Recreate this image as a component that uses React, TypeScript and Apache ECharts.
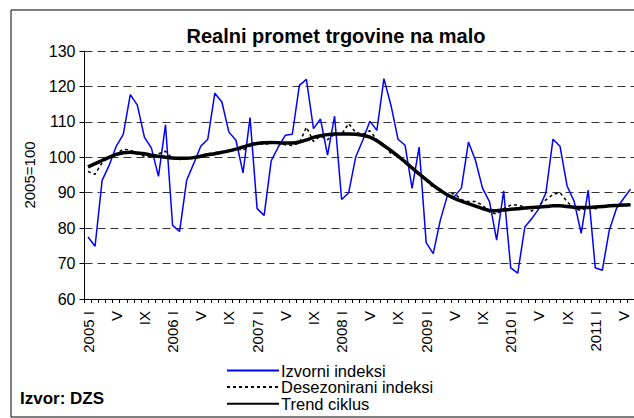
import React, { useEffect, useRef } from "react";
import * as echarts from "echarts";

const romans = ["I", "II", "III", "IV", "V", "VI", "VII", "VIII", "IX", "X", "XI", "XII"];
const years = [2005, 2006, 2007, 2008, 2009, 2010, 2011];
const monthsCount = 78;
const categories: string[] = [];
for (let i = 0; i < monthsCount; i++) {
  const y = years[Math.floor(i / 12)];
  const m = i % 12;
  categories.push(m === 0 ? `${y} ${romans[m]}` : romans[m]);
}

const izvorni = [
  77.5, 74.9, 93.5, 97.7, 103.1, 106.5, 117.7, 114.7, 105.7, 102.6, 94.6, 109.2,
  80.8, 79.1, 93.5, 98.2, 103.1, 105.1, 118.1, 115.6, 107.1, 104.8, 95.6, 111.2,
  85.5, 83.6, 99.0, 102.9, 106.2, 106.5, 120.3, 122.0, 108.1, 110.8, 100.6, 111.6,
  88.1, 90.0, 100.1, 104.8, 110.2, 107.6, 122.2, 114.7, 105.1, 103.4, 91.2, 102.9,
  75.9, 72.8, 82.2, 89.1, 88.9, 91.3, 104.3, 99.1, 91.3, 87.4, 76.6, 90.5,
  68.8, 67.3, 80.3, 82.7, 85.5, 90.0, 105.1, 103.1, 91.9, 87.6, 78.5, 90.7,
  68.8, 68.1, 79.5, 85.5, 88.3, 91.0,
];

const desezonirani = [
  96.0, 95.2, 98.5, 100.0, 101.0, 102.3, 102.0, 101.0, 100.3, 100.0, 101.0, 101.7,
  99.6, 99.4, 99.5, 99.8, 100.5, 101.0, 101.3, 101.6, 102.0, 102.4, 102.0, 103.2,
  104.0, 103.6, 104.0, 104.2, 103.5, 103.3, 104.0, 108.5, 104.5, 106.0, 105.0, 106.5,
  106.5, 109.5, 107.0, 106.5, 107.5, 105.0, 103.5, 101.0, 100.5, 99.0, 97.0, 95.5,
  93.5, 91.5, 90.8, 89.5, 89.8, 88.0, 87.5, 87.5, 86.5, 84.5, 84.0, 85.5,
  86.5, 86.5, 86.0, 84.8, 86.5, 88.0, 89.5, 90.0, 87.5, 85.5, 85.0, 86.0,
  85.5, 86.0, 86.5, 86.0, 86.5, 86.5,
];

const trend = [
  97.3, 98.2, 99.1, 100.0, 100.8, 101.3, 101.4, 101.2, 101.0, 100.6, 100.3, 100.0,
  99.8, 99.7, 99.7, 99.9, 100.3, 100.7, 101.0, 101.4, 101.8, 102.3, 102.9, 103.5,
  103.9, 104.1, 104.2, 104.1, 104.0, 104.0, 104.3, 104.9, 105.6, 106.1, 106.4, 106.6,
  106.6, 106.6, 106.5, 106.2, 105.7, 104.7, 103.3, 101.9, 100.3, 98.7, 97.0, 95.3,
  93.7, 92.1, 90.7, 89.4, 88.4, 87.6, 86.9, 86.2, 85.5, 85.0, 84.9, 85.1,
  85.3, 85.5, 85.7, 85.8, 86.0, 86.1, 86.3, 86.3, 86.1, 85.9, 85.8, 85.8,
  86.0, 86.1, 86.3, 86.4, 86.5, 86.6,
];

const seriesNames = ["Izvorni indeksi", "Desezonirani indeksi", "Trend ciklus"];
const FONT = "'Liberation Sans', Arial, sans-serif";

export default function App() {
  const ref = useRef<HTMLDivElement>(null);
  useEffect(() => {
    if (!ref.current) return;
    const chart = echarts.init(ref.current, null, { renderer: "svg" });
    const legendBase = {
      orient: "horizontal",
      left: 226,
      itemWidth: 52,
      itemHeight: 10,
      itemGap: 0,
      itemStyle: { opacity: 0 },
      padding: 0,
      textStyle: {
        fontFamily: FONT,
        fontSize: 16.5,
        lineHeight: 16,
        color: "#000",
        padding: [0, 0, 0, -3],
      },
    };
    chart.setOption({
      animation: false,
      backgroundColor: "#ffffff",
      textStyle: { fontFamily: FONT },
      title: {
        text: "Realni promet trgovine na malo",
        left: 331,
        textAlign: "center",
        top: 21,
        textStyle: { fontFamily: FONT, fontSize: 20, fontWeight: "bold", color: "#000" },
      },
      graphic: [
        {
          type: "rect",
          shape: { x: 11, y: 10, width: 640, height: 407 },
          style: { fill: "none", stroke: "#000", lineWidth: 1 },
          silent: true,
          z: -1,
        },
        {
          type: "text",
          left: 20,
          top: 390,
          style: { text: "Izvor: DZS", font: `bold 17px ${FONT}`, fill: "#000" },
        },
      ],
      legend: [
        { ...legendBase, top: 362, data: [seriesNames[0]] },
        { ...legendBase, top: 378.6, data: [seriesNames[1]] },
        { ...legendBase, top: 395.2, data: [seriesNames[2]] },
      ],
      grid: { left: 84.5, top: 51, width: 552, height: 248, containLabel: false },
      xAxis: {
        type: "category",
        data: categories,
        boundaryGap: true,
        axisLine: { lineStyle: { color: "#000", width: 1 } },
        axisTick: { show: true, interval: 0, length: 4, lineStyle: { color: "#000" } },
        axisLabel: {
          interval: 3,
          rotate: 90,
          margin: 12,
          fontFamily: FONT,
          fontSize: 15,
          color: "#000",
        },
        splitLine: { show: false },
      },
      yAxis: {
        type: "value",
        min: 60,
        max: 130,
        interval: 10,
        name: "2005=100",
        nameLocation: "middle",
        nameGap: 48,
        nameTextStyle: { fontFamily: FONT, fontSize: 15, color: "#000" },
        axisLine: { show: true, lineStyle: { color: "#000", width: 1 } },
        axisTick: { show: true, inside: false, length: 5, lineStyle: { color: "#000" } },
        axisLabel: { fontFamily: FONT, fontSize: 16, color: "#000", margin: 9 },
        splitLine: { show: true, lineStyle: { color: "#333", type: [8, 5], width: 1 } },
      },
      series: [
        {
          name: seriesNames[0],
          type: "line",
          data: izvorni,
          symbol: "none",
          lineStyle: { color: "#0000ff", width: 1.5 },
          itemStyle: { color: "#0000ff", opacity: 0 },
          z: 2,
        },
        {
          name: seriesNames[1],
          type: "line",
          data: desezonirani,
          symbol: "none",
          lineStyle: { color: "#000", width: 1.5, type: [3, 3] },
          itemStyle: { color: "#000", opacity: 0 },
          z: 3,
        },
        {
          name: seriesNames[2],
          type: "line",
          data: trend,
          symbol: "none",
          smooth: 0.3,
          lineStyle: { color: "#000", width: 3.5 },
          itemStyle: { color: "#000", opacity: 0 },
          z: 4,
        },
      ],
    });
    return () => chart.dispose();
  }, []);
  return (
    <div
      ref={ref}
      style={{ position: "fixed", left: 0, top: 0, width: 634, height: 418 }}
    />
  );
}
